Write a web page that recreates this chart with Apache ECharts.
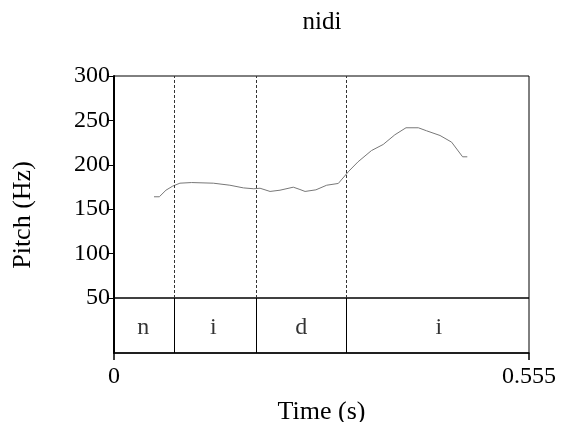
<!DOCTYPE html>
<html>
<head>
<meta charset="utf-8">
<script src="https://cdn.jsdelivr.net/npm/echarts@6/dist/echarts.min.js"></script>
<style>
  html, body { margin: 0; padding: 0; background: #fff; }
  #chart { width: 561px; height: 422px; }
</style>
</head>
<body>
<div id="chart"></div>
<script>
// pitch track (s, Hz)
const times = [0.0535, 0.0606, 0.0695, 0.0785, 0.0882, 0.1038, 0.1328, 0.155, 0.173, 0.187,
  0.1953, 0.2087, 0.222, 0.2398, 0.2487, 0.2555, 0.270, 0.2844, 0.300, 0.314, 0.3264,
  0.3443, 0.360, 0.3756, 0.3905, 0.407, 0.418, 0.436, 0.4515, 0.4662, 0.4725];
const pitch = [164, 164, 171.4, 176, 179.3, 180, 179.3, 177, 174, 173,
  173.6, 170, 171.4, 174.8, 172.2, 170, 171.8, 177, 179, 192.8, 203.4,
  216, 222.9, 233.8, 241.7, 241.7, 238.3, 233, 225.5, 209, 209];

// segment tier
const segments = ['n', 'i', 'd', 'i'];
const bounds = [0, 0.0785, 0.187, 0.314, 0.555];

const yTicks = [50, 300, 50]; // min, max, step
const tEnd = 0.555;

const font = '"Liberation Serif", "Times New Roman", serif';
const chart = echarts.init(document.getElementById('chart'));

const inner = bounds.slice(1, -1);
const tierLabels = segments.map((s, i) => ({
  value: [(bounds[i] + bounds[i + 1]) / 2, 0.5],
  label: { formatter: s }
}));

chart.setOption({
  animation: false,
  textStyle: { fontFamily: font },
  graphic: [{
    type: 'text',
    x: 322, y: 22,
    style: { text: 'nidi', font: '25px ' + font, fill: '#000', align: 'center', verticalAlign: 'middle' }
  }, {
    type: 'text',
    x: 23, y: 215, rotation: Math.PI / 2,
    style: { text: 'Pitch (Hz)', font: '26px ' + font, fill: '#000', align: 'center', verticalAlign: 'middle' }
  }],
  grid: [
    { left: 114, top: 76, width: 415, height: 222, outerBoundsMode: 'none',
      show: true, borderColor: '#000', borderWidth: 1 },
    { left: 114, top: 298, width: 415, height: 55, outerBoundsMode: 'none',
      show: true, borderColor: '#000', borderWidth: 1 }
  ],
  xAxis: [{
    gridIndex: 0, type: 'value', min: 0, max: tEnd, show: false
  }, {
    gridIndex: 1, type: 'value', min: 0, max: tEnd, interval: tEnd,
    axisLine: { lineStyle: { color: '#000', width: 1.5 } },
    axisTick: { length: 7, lineStyle: { color: '#000', width: 1.5 } },
    axisLabel: { fontSize: 24, color: '#000', margin: 12, formatter: v => String(v) },
    splitLine: { show: false },
    name: 'Time (s)', nameLocation: 'middle', nameGap: 46,
    nameTextStyle: { fontSize: 26, color: '#000' }
  }],
  yAxis: [{
    gridIndex: 0, type: 'value', min: yTicks[0], max: yTicks[1], interval: yTicks[2],
    axisLine: { show: true, lineStyle: { color: '#000', width: 2 } },
    axisTick: { length: 7, lineStyle: { color: '#000' } },
    axisLabel: { fontSize: 24, color: '#000', margin: 4 },
    splitLine: { show: false }
  }, {
    gridIndex: 1, type: 'value', min: 0, max: 1,
    axisLine: { show: true, lineStyle: { color: '#000', width: 2 } },
    axisTick: { show: false }, axisLabel: { show: false }, splitLine: { show: false }
  }],
  series: [{
    type: 'line',
    xAxisIndex: 0, yAxisIndex: 0,
    data: times.map((t, i) => [t, pitch[i]]),
    showSymbol: false,
    lineStyle: { color: '#777', width: 1 },
    markLine: {
      silent: true, symbol: 'none', label: { show: false },
      lineStyle: { color: '#333', type: [3, 2], width: 1 },
      data: inner.map(b => ({ xAxis: b })).concat([{ xAxis: 0, lineStyle: { color: '#000', type: [1, 1], width: 1.5 } }])
    }
  }, {
    type: 'scatter',
    xAxisIndex: 1, yAxisIndex: 1,
    symbolSize: 0,
    data: tierLabels,
    label: { show: true, position: 'inside', fontSize: 24, color: '#000', offset: [0, 2] },
    markLine: {
      silent: true, symbol: 'none', label: { show: false },
      lineStyle: { color: '#000', type: 'solid', width: 1 },
      data: inner.map(b => ({ xAxis: b }))
    }
  }]
});
</script>
</body>
</html>
